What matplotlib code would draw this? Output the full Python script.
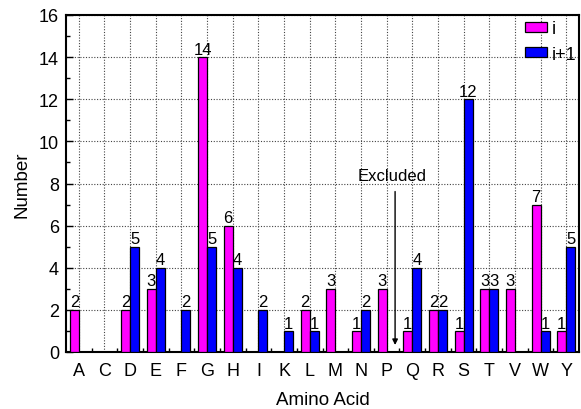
import matplotlib
matplotlib.use("Agg")
import matplotlib.pyplot as plt
import numpy as np

plt.rcParams['font.family'] = ['Liberation Sans', 'DejaVu Sans']

categories = ["A", "C", "D", "E", "F", "G", "H", "I", "K", "L", "M", "N", "P", "Q", "R", "S", "T", "V", "W", "Y"]
i_vals = [2, 0, 2, 3, 0, 14, 6, 0, 0, 2, 3, 1, 3, 1, 2, 1, 3, 3, 7, 1]
i1_vals = [0, 0, 5, 4, 2, 5, 4, 2, 1, 1, 0, 2, 0, 4, 2, 12, 3, 0, 1, 5]

fig = plt.figure(figsize=(5.81, 4.10), dpi=100)
ax = fig.add_axes([66/581, 1 - 353/410, (579-66)/581, (353-16)/410])

x = np.arange(len(categories))
w = 0.35
ax.bar(x - w/2, i_vals, width=w, color='#ff00ff', edgecolor='black', linewidth=0.9, label='i', zorder=3)
ax.bar(x + w/2, i1_vals, width=w, color='#0000ff', edgecolor='black', linewidth=0.9, label='i+1', zorder=3)

for xi, v in zip(x, i_vals):
    if v > 0:
        ax.text(xi - w/2, v + 0.02, str(v), ha='center', va='bottom', fontsize=12, zorder=4)
for xi, v in zip(x, i1_vals):
    if v > 0:
        ax.text(xi + w/2, v + 0.02, str(v), ha='center', va='bottom', fontsize=12, zorder=4)

ax.set_xlim(-0.5, len(categories) - 0.5)
ax.set_ylim(0, 16)
ax.set_xticks(x)
ax.set_xticklabels(categories, fontsize=13)
ax.set_xticks(np.arange(0.5, len(categories) - 1, 1), minor=True)
ax.set_yticks(np.arange(0, 17, 2))
ax.set_yticks(np.arange(1, 16, 2), minor=True)
ax.tick_params(axis='y', labelsize=13, pad=5)
ax.tick_params(axis='x', which='major', length=0, pad=7)
ax.tick_params(which='both', direction='in', top=False, right=False)
ax.tick_params(axis='y', which='major', length=5, width=1)
ax.tick_params(which='minor', length=3, width=1)
ax.grid(True, which='major', linestyle=(0, (1, 1.5)), color='#444444', linewidth=0.8, zorder=0)
for s in ax.spines.values():
    s.set_linewidth(1.5)

ax.set_xlabel('Amino Acid', fontsize=13.5, labelpad=9)
ax.set_ylabel('Number', fontsize=13.5, labelpad=6)

ax.annotate('', xy=(12.33, 0.2), xytext=(12.33, 7.75),
            arrowprops=dict(arrowstyle='-|>', color='black', lw=1, mutation_scale=8), zorder=5)
ax.text(12.2, 8.4, 'Excluded', ha='center', va='center', fontsize=12, zorder=5)

ax.legend(loc='upper right', bbox_to_anchor=(1.005, 1.0), frameon=False, fontsize=13,
          handlelength=1.2, handleheight=0.5, handletextpad=0.25, labelspacing=0.45,
          borderaxespad=0.2, borderpad=0.1)

fig.savefig('out.png', dpi=100)
